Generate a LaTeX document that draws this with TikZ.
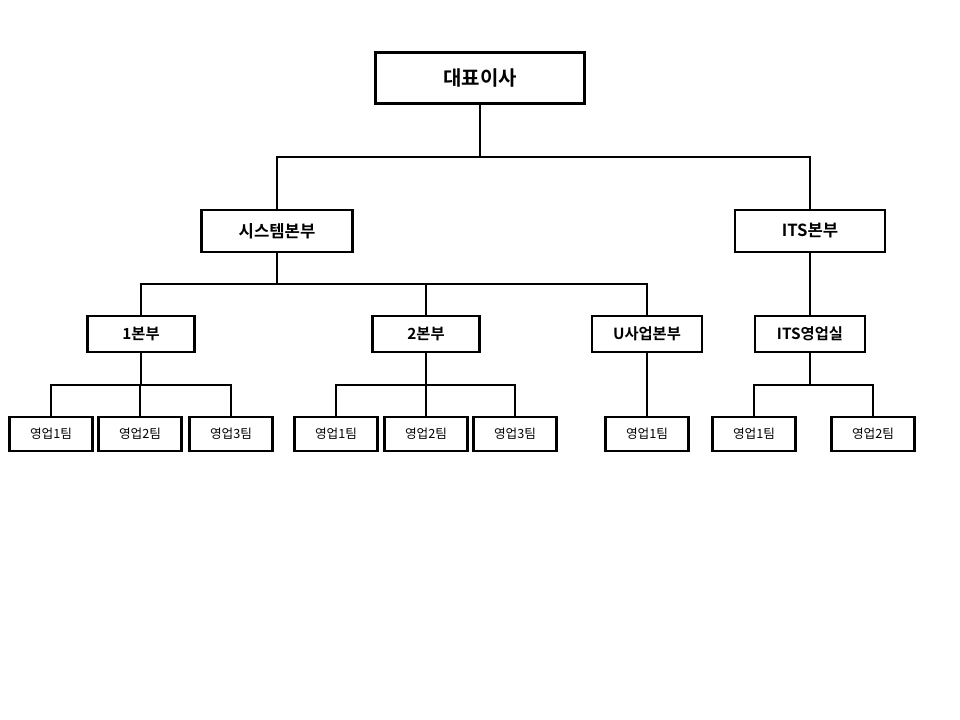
\documentclass[tikz,border=0pt]{standalone}
\usepackage{fontspec}
\setmainfont{Noto Sans CJK KR}[BoldFont={* Bold}]
\begin{document}
\begin{tikzpicture}[x=0.75pt,y=-0.75pt,line width=2.2pt,
  box/.style={draw,line width=2.2pt,inner sep=0pt,font=\bfseries},
  leaf/.style={draw,line width=2pt,inner sep=0pt,minimum width=62.25pt,minimum height=25.5pt,font=\fontsize{9.5}{10}\selectfont}]
\useasboundingbox (0,0) rectangle (960,720);
\node[box,minimum width=156.75pt,minimum height=38.25pt,font=\bfseries\fontsize{15}{16}\selectfont] (ceo) at (480,78) {대표이사};
\node[box,minimum width=113.25pt,minimum height=31.5pt,font=\bfseries\fontsize{12.5}{13}\selectfont] (sys) at (277,231) {시스템본부};
\node[box,minimum width=112.5pt,minimum height=31.5pt,font=\bfseries\fontsize{12.5}{13}\selectfont] (its) at (810,231) {ITS본부};
\tikzset{mid/.style={box,minimum width=80.25pt,minimum height=27pt,font=\bfseries\fontsize{11.5}{12}\selectfont}}
\node[mid] (b1) at (141,334) {1본부};
\node[mid] (b2) at (426,334) {2본부};
\node[mid,minimum width=82.5pt] (bu) at (647,334) {U사업본부};
\node[mid,minimum width=82.5pt] (bi) at (810,334) {ITS영업실};
\node[leaf] (t11) at (51,434) {영업1팀};
\node[leaf] (t12) at (140,434) {영업2팀};
\node[leaf] (t13) at (231,434) {영업3팀};
\node[leaf] (t21) at (336,434) {영업1팀};
\node[leaf] (t22) at (426,434) {영업2팀};
\node[leaf] (t23) at (515,434) {영업3팀};
\node[leaf] (tu1) at (647,434) {영업1팀};
\node[leaf] (ti1) at (754,434) {영업1팀};
\node[leaf] (ti2) at (873,434) {영업2팀};
\draw (ceo.south) -- (480,157) coordinate (j0);
\draw (sys.north) |- (j0) -| (its.north);
\draw (sys.south) -- (277,284) coordinate (j1);
\draw (b1.north) |- (j1) -| (bu.north);
\draw (b2.north) -- (b2.north|-j1);
\draw (its.south) -- (bi.north);
\draw (b1.south) -- (141,385) coordinate (j2);
\draw (t11.north) |- (j2) -| (t13.north);
\draw (t12.north) -- (t12.north|-j2);
\draw (b2.south) -- (426,385) coordinate (j3);
\draw (t21.north) |- (j3) -| (t23.north);
\draw (t22.north) -- (t22.north|-j3);
\draw (bu.south) -- (tu1.north);
\draw (bi.south) -- (810,385) coordinate (j4);
\draw (ti1.north) |- (j4) -| (ti2.north);
\end{tikzpicture}
\end{document}
